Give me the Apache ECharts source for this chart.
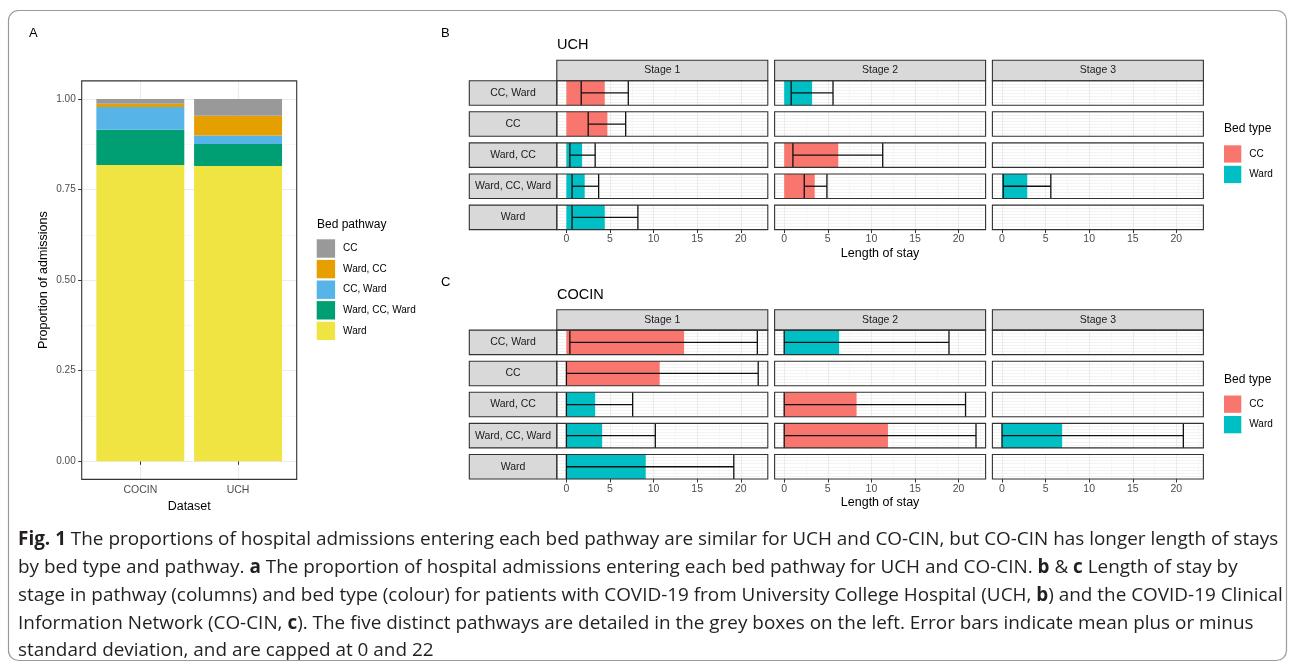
<!DOCTYPE html>
<html>
<head>
<meta charset="utf-8">
<script src="https://cdn.jsdelivr.net/npm/echarts@6/dist/echarts.min.js"></script>
<style>
html,body{margin:0;padding:0;background:#fff;}
#chart{width:1295px;height:664px;}
</style>
</head>
<body>
<div id="chart"></div>
<script>
// ---------------- DATA ----------------
// Panel A: proportion of admissions per bed pathway
const datasets = ['COCIN', 'UCH'];
const propWard = [0.818, 0.815];
const propWardCCWard = [0.097, 0.061];
const propCCWard = [0.063, 0.023];
const propWardCC = [0.009, 0.055];
const propCC = [0.013, 0.046];
const propTicks = [0, 0.25, 0.5, 0.75, 1];
const propMinorTicks = [0.125, 0.375, 0.625, 0.875];
const legendPathways = ['CC', 'Ward, CC', 'CC, Ward', 'Ward, CC, Ward', 'Ward'];

// Panels B & C: length of stay by pathway (rows) and stage (columns)
const pathways = ['CC, Ward', 'CC', 'Ward, CC', 'Ward, CC, Ward', 'Ward'];
const stages = ['Stage 1', 'Stage 2', 'Stage 3'];
const losTicks = [0, 5, 10, 15, 20];
const losMinorTicks = [2.5, 7.5, 12.5, 17.5, 22.5];
const bedTypes = ['CC', 'Ward'];

// UCH
const uchS1Bed  = ['CC', 'CC', 'Ward', 'Ward', 'Ward'];
const uchS1Mean = [4.4, 4.7, 1.8, 2.1, 4.4];
const uchS1Low  = [1.7, 2.5, 0.4, 0.65, 0.65];
const uchS1High = [7.1, 6.8, 3.3, 3.7, 8.2];
const uchS2Bed  = ['Ward', null, 'CC', 'CC', null];
const uchS2Mean = [3.2, null, 6.2, 3.5, null];
const uchS2Low  = [0.8, null, 1.0, 2.3, null];
const uchS2High = [5.6, null, 11.3, 4.9, null];
const uchS3Bed  = [null, null, null, 'Ward', null];
const uchS3Mean = [null, null, null, 2.9, null];
const uchS3Low  = [null, null, null, 0.15, null];
const uchS3High = [null, null, null, 5.6, null];

// COCIN
const cocinS1Bed  = ['CC', 'CC', 'Ward', 'Ward', 'Ward'];
const cocinS1Mean = [13.5, 10.7, 3.3, 4.1, 9.1];
const cocinS1Low  = [0.4, 0, 0, 0, 0];
const cocinS1High = [21.9, 22, 7.6, 10.2, 19.2];
const cocinS2Bed  = ['Ward', null, 'CC', 'CC', null];
const cocinS2Mean = [6.3, null, 8.3, 11.9, null];
const cocinS2Low  = [0, null, 0, 0, null];
const cocinS2High = [18.9, null, 20.8, 22, null];
const cocinS3Bed  = [null, null, null, 'Ward', null];
const cocinS3Mean = [null, null, null, 6.9, null];
const cocinS3Low  = [null, null, null, 0, null];
const cocinS3High = [null, null, null, 20.8, null];

const captionLines = [
  '{b|Fig. 1} The proportions of hospital admissions entering each bed pathway are similar for UCH and CO-CIN, but CO-CIN has longer length of stays',
  'by bed type and pathway. {b|a} The proportion of hospital admissions entering each bed pathway for UCH and CO-CIN. {b|b} & {b|c} Length of stay by',
  'stage in pathway (columns) and bed type (colour) for patients with COVID-19 from University College Hospital (UCH, {b|b}) and the COVID-19 Clinical',
  'Information Network (CO-CIN, {b|c}). The five distinct pathways are detailed in the grey boxes on the left. Error bars indicate mean plus or minus',
  'standard deviation, and are capped at 0 and 22'
];

// ---------------- STYLE / LAYOUT ----------------
const FONT = '"Liberation Sans", Arial, Helvetica, sans-serif';
const CAPFONT = '"Open Sans", "Noto Sans", sans-serif';
const pathwayColors = {'CC':'#999999','Ward, CC':'#E69F00','CC, Ward':'#56B4E9','Ward, CC, Ward':'#009E73','Ward':'#F0E442'};
const bedColors = {'CC':'#F8766D','Ward':'#00BFC4'};
const pathwayProps = {'Ward':propWard,'Ward, CC, Ward':propWardCCWard,'CC, Ward':propCCWard,'Ward, CC':propWardCC,'CC':propCC};
const stackOrder = ['Ward', 'Ward, CC, Ward', 'CC, Ward', 'Ward, CC', 'CC']; // bottom -> top

const grids = [], xAxes = [], yAxes = [], series = [], graphics = [], titles = [], legends = [];
const majorLine = {color:'#EBEBEB', width:1.1};
const minorLine = {color:'#F2F2F2', width:0.6};

function addFrame(g) {
  graphics.push({type:'rect', shape:{x:g.left, y:g.top, width:g.width, height:g.height}, silent:true, z:30,
    style:{fill:'none', stroke:'#333333', lineWidth:1.1}});
}

// ---------- Panel A ----------
const aGrid = {left:81.7, top:80.9, width:215, height:398.5};
const aUnit = aGrid.width / 2.2; // x range 0.4 .. 2.6
grids.push(Object.assign({show:true, backgroundColor:'#fff', borderWidth:0}, aGrid));
grids.push({left:aGrid.left + 0.1 * aUnit, top:aGrid.top, width:2 * aUnit, height:aGrid.height, show:false});
addFrame(aGrid);
xAxes.push({
  type:'value', gridIndex:0, min:0.4, max:2.6,
  axisLine:{show:false},
  axisTick:{show:true, customValues:[1,2], length:3.5, lineStyle:{color:'#333', width:1}},
  axisLabel:{show:true, customValues:[1,2], formatter:v => datasets[Math.round(v)-1], color:'#4D4D4D', fontSize:10.5, margin:5},
  splitLine:{show:true, lineStyle:majorLine},
  name:'Dataset', nameLocation:'middle', nameGap:17, nameTextStyle:{color:'#000', fontSize:12.5}
});
xAxes.push({type:'category', gridIndex:1, data:datasets, show:false});
yAxes.push({
  type:'value', gridIndex:0, min:-0.05, max:1.05,
  axisLine:{show:false},
  axisTick:{show:true, customValues:propTicks, length:3.5, lineStyle:{color:'#333', width:1}},
  axisLabel:{show:true, customValues:propTicks, formatter:v => v.toFixed(2), color:'#4D4D4D', fontSize:10, margin:6},
  splitLine:{show:true, lineStyle:majorLine},
  name:'Proportion of admissions', nameLocation:'middle', nameGap:32, nameRotate:90, nameTextStyle:{color:'#000', fontSize:12.5}
});
yAxes.push({
  type:'value', gridIndex:0, min:-0.05, max:1.05, position:'right',
  axisLine:{show:false},
  axisTick:{show:false, customValues:propMinorTicks},
  axisLabel:{show:false, customValues:propMinorTicks},
  splitLine:{show:true, lineStyle:minorLine}
});
yAxes.push({type:'value', gridIndex:1, min:-0.05, max:1.05, show:false});
stackOrder.forEach(p => {
  series.push({
    type:'bar', name:p, xAxisIndex:1, yAxisIndex:2, stack:'prop', barWidth:'90%',
    itemStyle:{color:pathwayColors[p]}, silent:true,
    data: pathwayProps[p]
  });
});
legends.push({
  data:legendPathways, orient:'vertical', left:316.7, top:239.3, padding:0,
  itemWidth:18.4, itemHeight:18.4, itemGap:2.2, icon:'rect', selectedMode:false,
  textStyle:{fontSize:10, color:'#000', fontFamily:FONT, padding:[0,0,0,3]}
});
titles.push({text:'Bed pathway', left:317, top:219, padding:0, textStyle:{fontSize:12, fontWeight:'normal', color:'#000', fontFamily:FONT}});
titles.push({text:'A', left:29, top:27, padding:0, textStyle:{fontSize:13, fontWeight:'normal', color:'#000', fontFamily:FONT}});

// ---------- Panels B & C ----------
const colLeft0 = 556.8, colPitch = 217.8, colW = 211;
const stripH = 20.4, rowPitch = 31.1, rowH = 24.5, rowStripLeft = 469.3;

const sections = [
  {title:'UCH', letter:'B', stripTop:60.3, letterTop:27, titleTop:37, legTitleTop:123, legTop:145.3,
   bed:[uchS1Bed,uchS2Bed,uchS3Bed], mean:[uchS1Mean,uchS2Mean,uchS3Mean], low:[uchS1Low,uchS2Low,uchS3Low], high:[uchS1High,uchS2High,uchS3High]},
  {title:'COCIN', letter:'C', stripTop:309.7, letterTop:276, titleTop:287, legTitleTop:374, legTop:395.5,
   bed:[cocinS1Bed,cocinS2Bed,cocinS3Bed], mean:[cocinS1Mean,cocinS2Mean,cocinS3Mean], low:[cocinS1Low,cocinS2Low,cocinS3Low], high:[cocinS1High,cocinS2High,cocinS3High]}
];

function renderFacet(params, api) {
  const cs = params.coordSys;
  const mean = api.value(0), lo = api.value(1), hi = api.value(2);
  const p0 = api.coord([0, 4]), pm = api.coord([mean, 4]);
  const pl = api.coord([lo, 4]), ph = api.coord([hi, 4]);
  const top = cs.y, bottom = cs.y + cs.height;
  const color = api.visual('color');
  const ls = {stroke:'#111', lineWidth:1.3};
  return {type:'group', children:[
    {type:'rect', shape:{x:p0[0], y:top, width:pm[0]-p0[0], height:bottom-top}, style:{fill:color}},
    {type:'line', shape:{x1:pl[0], y1:pm[1], x2:ph[0], y2:pm[1]}, style:ls},
    {type:'line', shape:{x1:pl[0], y1:top, x2:pl[0], y2:bottom}, style:ls},
    {type:'line', shape:{x1:ph[0], y1:top, x2:ph[0], y2:bottom}, style:ls}
  ]};
}

function addStrip(x, y, w, h, label) {
  graphics.push({type:'rect', shape:{x:x, y:y, width:w, height:h}, silent:true, z:10,
    style:{fill:'#D9D9D9', stroke:'#333333', lineWidth:1.1}});
  graphics.push({type:'text', x:x + w/2, y:y + h/2, silent:true, z:11,
    style:{text:label, fill:'#1A1A1A', fontSize:10.5, fontFamily:FONT, align:'center', verticalAlign:'middle'}});
}

sections.forEach(sec => {
  titles.push({text:sec.letter, left:441, top:sec.letterTop, padding:0, textStyle:{fontSize:13, fontWeight:'normal', color:'#000', fontFamily:FONT}});
  titles.push({text:sec.title, left:557, top:sec.titleTop, padding:0, textStyle:{fontSize:14.5, fontWeight:'normal', color:'#000', fontFamily:FONT}});
  titles.push({text:'Bed type', left:1224, top:sec.legTitleTop, padding:0, textStyle:{fontSize:12, fontWeight:'normal', color:'#000', fontFamily:FONT}});
  legends.push({
    data:bedTypes.map(b => 'Bed: ' + b), formatter:n => n.replace('Bed: ', ''),
    orient:'vertical', left:1224, top:sec.legTop, padding:0,
    itemWidth:17.3, itemHeight:17.3, itemGap:3.2, icon:'rect', selectedMode:false,
    textStyle:{fontSize:10, color:'#000', fontFamily:FONT, padding:[0,0,0,3]}
  });

  stages.forEach((st, c) => {
    const left = colLeft0 + c * colPitch;
    addStrip(left, sec.stripTop, colW, stripH, st);
  });

  pathways.forEach((pw, r) => {
    const top = sec.stripTop + stripH + r * rowPitch;
    addStrip(rowStripLeft, top, colLeft0 - rowStripLeft, rowH, pw);
    stages.forEach((st, c) => {
      const left = colLeft0 + c * colPitch;
      const gi = grids.length;
      const isBottom = r === pathways.length - 1;
      const g = {left:left, top:top, width:colW, height:rowH};
      grids.push(Object.assign({show:true, backgroundColor:'#fff', borderWidth:0}, g));
      addFrame(g);
      const xMain = {
        type:'value', gridIndex:gi, min:-1.1, max:23.1,
        axisLine:{show:false},
        axisTick:{show:isBottom, customValues:losTicks, length:3.5, lineStyle:{color:'#333', width:1}},
        axisLabel:{show:isBottom, customValues:losTicks, color:'#4D4D4D', fontSize:10.5, margin:4.5},
        splitLine:{show:true, lineStyle:majorLine}
      };
      if (isBottom && c === 1) {
        Object.assign(xMain, {name:'Length of stay', nameLocation:'middle', nameGap:17.5, nameTextStyle:{color:'#000', fontSize:12.5}});
      }
      const xi = xAxes.length;
      xAxes.push(xMain);
      xAxes.push({
        type:'value', gridIndex:gi, min:-1.1, max:23.1, position:'top',
        axisLine:{show:false},
        axisTick:{show:false, customValues:losMinorTicks},
        axisLabel:{show:false, customValues:losMinorTicks},
        splitLine:{show:true, lineStyle:minorLine}
      });
      const yi = yAxes.length;
      yAxes.push({
        type:'value', gridIndex:gi, min:0, max:8, interval:1,
        axisLine:{show:false}, axisTick:{show:false}, axisLabel:{show:false},
        splitLine:{show:true, lineStyle:{color:'#EEEEEE', width:0.7}}
      });
      const bed = sec.bed[c][r];
      if (bed) {
        series.push({
          type:'custom', name:'Bed: ' + bed, xAxisIndex:xi, yAxisIndex:yi,
          itemStyle:{color:bedColors[bed]}, silent:true, clip:false,
          dimensions:['mean','low','high'], encode:{x:[0,1,2]},
          renderItem:renderFacet,
          data:[[sec.mean[c][r], sec.low[c][r], sec.high[c][r]]]
        });
      }
    });
  });
});

// ---------- Caption ----------
const capX = 18, capRight = 1279, capY0 = 540, capDy = 27.75;
(function () {
  const cv = document.createElement('canvas').getContext('2d');
  const base = 18;
  cv.font = 'bold ' + base + 'px "Open Sans"';
  const wb = cv.measureText('Fig. 1').width;
  cv.font = base + 'px "Open Sans"';
  const wr = cv.measureText(captionLines[0].replace('{b|Fig. 1}', '')).width;
  let size = base * (capRight - capX) / (wb + wr);
  if (!isFinite(size) || size < 12 || size > 24) size = 17.5;
  captionLines.forEach((ln, i) => {
    graphics.push({type:'text', x:capX, y:capY0 + i * capDy, silent:true, z:12,
      style:{text:ln, fill:'#231F20', fontSize:size, fontFamily:CAPFONT, align:'left', verticalAlign:'middle',
        rich:{b:{fontWeight:'bold', fontSize:size, fontFamily:CAPFONT, fill:'#231F20'}}}});
  });
})();

// outer rounded frame
graphics.push({type:'rect', shape:{x:8.5, y:10.5, width:1278, height:650, r:10}, silent:true, z:0,
  style:{fill:'none', stroke:'#9A9A9A', lineWidth:1.2}});

const chart = echarts.init(document.getElementById('chart'), null, {renderer:'canvas', width:1295, height:664});
chart.setOption({
  animation:false,
  backgroundColor:'#ffffff',
  textStyle:{fontFamily:FONT},
  title:titles, legend:legends, grid:grids, xAxis:xAxes, yAxis:yAxes, series:series, graphic:graphics
});
</script>
</body>
</html>
